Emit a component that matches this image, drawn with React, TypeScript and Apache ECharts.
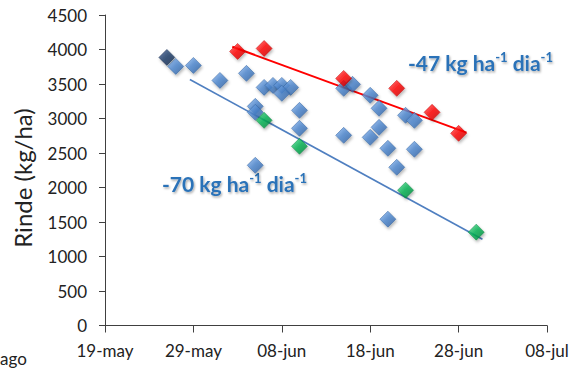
import React, { useEffect, useRef } from "react";
import * as echarts from "echarts";

// Sowing dates and yields (kg/ha) per group
const navyDates = ["26-may"];
const navyYields = [3885];

const blueDates = [
  "27-may", "29-may", "01-jun", "04-jun", "06-jun", "07-jun", "08-jun", "09-jun", "08-jun",
  "05-jun", "05-jun", "10-jun", "10-jun", "05-jun", "15-jun", "16-jun", "18-jun", "19-jun",
  "22-jun", "23-jun", "19-jun", "15-jun", "18-jun", "20-jun", "23-jun", "21-jun", "20-jun",
];
const blueYields = [
  3755, 3769, 3552, 3654, 3451, 3480, 3480, 3451, 3365,
  3176, 3089, 3118, 2858, 2322, 3437, 3495, 3336, 3148,
  3046, 2973, 2872, 2756, 2727, 2568, 2554, 2293, 1541,
];

const greenDates = ["06-jun", "10-jun", "22-jun", "30-jun"];
const greenYields = [2973, 2597, 1961, 1353];

const redDates = ["03-jun", "06-jun", "15-jun", "21-jun", "25-jun", "28-jun"];
const redYields = [3972, 4015, 3581, 3437, 3089, 2785];

// Linear trends: slope in kg/ha per day, span in days from 19-may
const trendSlopes = [-47, -70];
const trendStartDays = [14.4, 9.6];
const trendEndDays = [40.9, 42.7];
const trendStartValues = [4040, 3566];
const trendLabels = ["-47", "-70"];

// Axis settings
const xTickDays = 10;
const xMaxDays = 50;
const yMax = 4500;
const yStep = 500;

const MONTHS = ["ene", "feb", "mar", "abr", "may", "jun", "jul", "ago", "sep", "oct", "nov", "dic"];
const ORIGIN = Date.UTC(2013, 4, 19);
const DAY = 86400000;

function toDay(label: string): number {
  const [d, m] = label.split("-");
  const month = MONTHS.indexOf(m);
  return Math.round((Date.UTC(2013, month, Number(d)) - ORIGIN) / DAY);
}

function dayLabel(day: number): string {
  const dt = new Date(ORIGIN + day * DAY);
  const dd = String(dt.getUTCDate()).padStart(2, "0");
  return `${dd}-${MONTHS[dt.getUTCMonth()]}`;
}

function pairs(dates: string[], values: number[]) {
  return dates.map((d, i) => [toDay(d), values[i]]);
}

function diamondStyle(light: string, mid: string, dark: string) {
  return {
    color: new echarts.graphic.LinearGradient(0, 0, 1, 1, [
      { offset: 0, color: light },
      { offset: 0.5, color: mid },
      { offset: 1, color: dark },
    ]),
    borderColor: dark,
    borderWidth: 0.6,
    shadowColor: "rgba(0,0,0,0.35)",
    shadowBlur: 3,
    shadowOffsetX: 1,
    shadowOffsetY: 2,
  };
}

const FONT = "Lato";
const NOTE_COLOR = "#2a72b8";

function note(value: string, x: number, y: number) {
  return {
    type: "text",
    x,
    y,
    style: {
      text: `{m|${value} kg ha}{s|-1}{m| dia}{s|-1}`,
      verticalAlign: "middle",
      rich: {
        m: { fontFamily: FONT, fontWeight: "bold", fontSize: 21, fill: NOTE_COLOR, lineHeight: 23 },
        s: { fontFamily: FONT, fontWeight: "bold", fontSize: 13, fill: NOTE_COLOR, verticalAlign: "top", lineHeight: 13 },
      },
      textShadowColor: "rgba(0,0,0,0.35)",
      textShadowBlur: 2,
      textShadowOffsetX: 1,
      textShadowOffsetY: 1.5,
    },
  };
}

export default function App() {
  const ref = useRef<HTMLDivElement>(null);

  useEffect(() => {
    if (!ref.current) return;
    const chart = echarts.init(ref.current, null, { renderer: "svg" });

    const trendSeries = trendSlopes.map((slope, i) => {
      const endValue = trendStartValues[i] + slope * (trendEndDays[i] - trendStartDays[i]);
      return {
        type: "line",
        name: `trend ${trendLabels[i]}`,
        data: [
          [trendStartDays[i], trendStartValues[i]],
          [trendEndDays[i], endValue],
        ],
        symbol: "none",
        z: 1,
        lineStyle: i === 0 ? { color: "#ff0000", width: 2 } : { color: "#4f7fc0", width: 1.6 },
      };
    });

    chart.setOption({
      animation: false,
      backgroundColor: "#ffffff",
      textStyle: { fontFamily: FONT },
      grid: { left: 105, right: 26, top: 15, bottom: 42.5, outerBoundsMode: "none" },
      xAxis: {
        type: "value",
        min: 0,
        max: xMaxDays,
        interval: xTickDays,
        splitLine: { show: false },
        axisLine: { lineStyle: { color: "#404040", width: 1 } },
        axisTick: { show: true, length: 7, lineStyle: { color: "#404040" } },
        axisLabel: {
          formatter: (v: number) => dayLabel(v),
          fontSize: 17,
          color: "#222222",
          fontFamily: FONT,
          margin: 16,
          showMaxLabel: true,
          showMinLabel: true,
        },
      },
      yAxis: {
        type: "value",
        min: 0,
        max: yMax,
        interval: yStep,
        splitLine: { show: false },
        axisLine: { show: true, lineStyle: { color: "#404040", width: 1 } },
        axisTick: { show: true, length: 6, lineStyle: { color: "#404040" } },
        axisLabel: {
          formatter: (v: number) => String(v),
          fontSize: 17,
          color: "#222222",
          fontFamily: FONT,
          margin: 18,
        },
      },
      series: [
        ...trendSeries,
        {
          type: "scatter",
          name: "navy",
          data: pairs(navyDates, navyYields),
          symbol: "diamond",
          symbolSize: 16,
          z: 2,
          itemStyle: diamondStyle("#3f5f8f", "#1c3a66", "#10264a"),
        },
        {
          type: "scatter",
          name: "blue",
          data: pairs(blueDates, blueYields),
          symbol: "diamond",
          symbolSize: 16,
          z: 3,
          itemStyle: diamondStyle("#86b2ec", "#4a84cc", "#2b5c9c"),
        },
        {
          type: "scatter",
          name: "green",
          data: pairs(greenDates, greenYields),
          symbol: "diamond",
          symbolSize: 16,
          z: 4,
          itemStyle: diamondStyle("#4fd98a", "#00b050", "#00803a"),
        },
        {
          type: "scatter",
          name: "red",
          data: pairs(redDates, redYields),
          symbol: "diamond",
          symbolSize: 16,
          z: 5,
          itemStyle: diamondStyle("#ff4a4a", "#ff0000", "#c00000"),
        },
      ],
      graphic: [
        {
          type: "text",
          x: 22,
          y: 178,
          rotation: Math.PI / 2,
          style: {
            text: "Rinde (kg/ha)",
            fontFamily: FONT,
            fontSize: 24,
            fill: "#222222",
            align: "center",
            verticalAlign: "middle",
          },
        },
        {
          type: "text",
          x: 0,
          y: 358,
          style: {
            text: "ago",
            fontFamily: FONT,
            fontSize: 17,
            fill: "#222222",
            align: "left",
            verticalAlign: "middle",
          },
        },
        note(trendLabels[0], 408, 62),
        note(trendLabels[1], 162, 183),
      ],
    });

    return () => chart.dispose();
  }, []);

  return (
    <div
      ref={ref}
      style={{ position: "fixed", left: 0, top: 0, width: 573, height: 368 }}
    />
  );
}
